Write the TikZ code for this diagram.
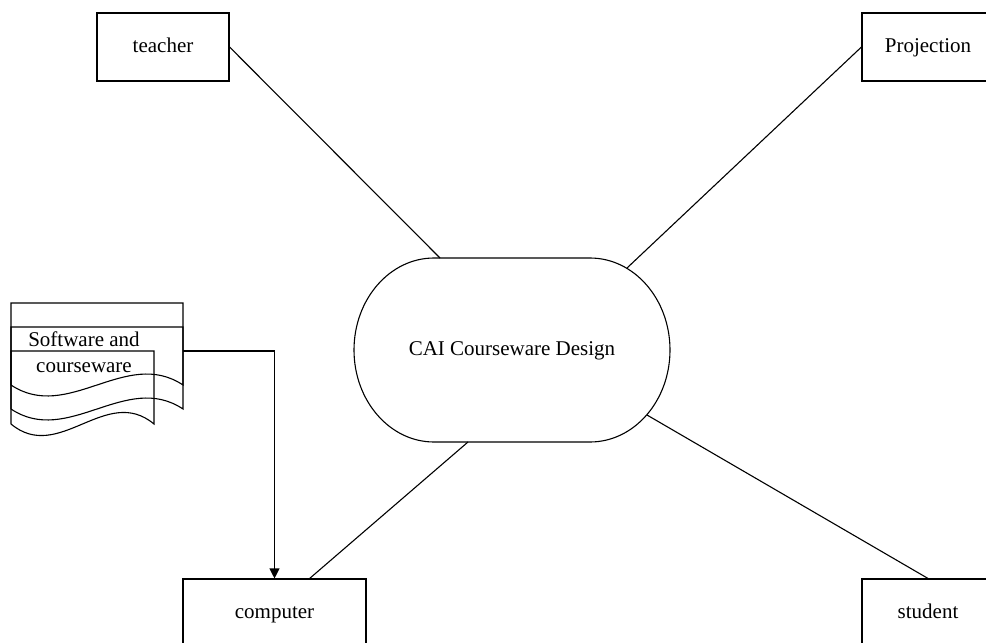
\documentclass[tikz,border=0pt]{standalone}
\usepackage{fontspec}
\setmainfont{Liberation Serif}
\usetikzlibrary{arrows.meta}

\tikzset{
  labelfont/.style={font=\fontsize{21}{26}\selectfont},
  entity/.style={draw, line width=1.1pt, minimum height=68pt, inner sep=0pt,
    text height=15pt, text depth=5pt, labelfont},
  link/.style={line width=1.1pt},
  doc/.style={line width=1.1pt},
}

\begin{document}
\begin{tikzpicture}[x=1pt, y=-1pt]
  \clip (0,0) rectangle (986,643);

  % outer entities
  \node[entity, minimum width=132pt] (teacher)    at (163,47)    {teacher};
  \node[entity, minimum width=132pt] (projection) at (928,47)    {Projection};
  \node[entity, minimum width=183pt] (computer)   at (274.5,613) {computer};
  \node[entity, minimum width=132pt] (student)    at (928,613)   {student};

  % central process: a stadium with elliptical ends
  \node[minimum width=316pt, minimum height=184pt, inner sep=0pt,
    text height=15pt, text depth=5pt, labelfont] (cai) at (512,350) {CAI Courseware Design};
  \draw[link] (434,258) -- (590,258)
    arc[start angle=90, end angle=-90, x radius=80, y radius=-92]
    -- (434,442)
    arc[start angle=270, end angle=90, x radius=80, y radius=-92] -- cycle;

  % points where the links meet the stadium outline
  \coordinate (cai-tl) at (440,258);
  \coordinate (cai-tr) at (627,268);
  \coordinate (cai-bl) at (468,442);
  \coordinate (cai-br) at (647,415);
  \coordinate (computer-in) at (309,579);

  \draw[link] (teacher.east) -- (cai-tl);
  \draw[link] (projection.west) -- (cai-tr);
  \draw[link] (computer-in) -- (cai-bl);
  \draw[link] (student.north) -- (cai-br);

  % stacked documents
  \draw[doc] (11,385) -- (11,303) -- (183,303) -- (183,385)
    .. controls (126,347) and (68,423) .. (11,385);
  \draw[doc] (11,409) -- (11,327) -- (183,327) -- (183,409)
    .. controls (126,371) and (68,447) .. (11,409);
  \draw[doc] (11,424) -- (11,351) -- (154,351) -- (154,424)
    .. controls (106,384) and (59,464) .. (11,424);
  \node[labelfont, align=center, inner sep=0pt] (software) at (84,352) {Software and\\courseware};
  \coordinate (docs-out) at (183,351);

  \draw[link, -{Triangle[length=10pt, width=10pt]}] (docs-out) -| (computer.north);
\end{tikzpicture}
\end{document}
